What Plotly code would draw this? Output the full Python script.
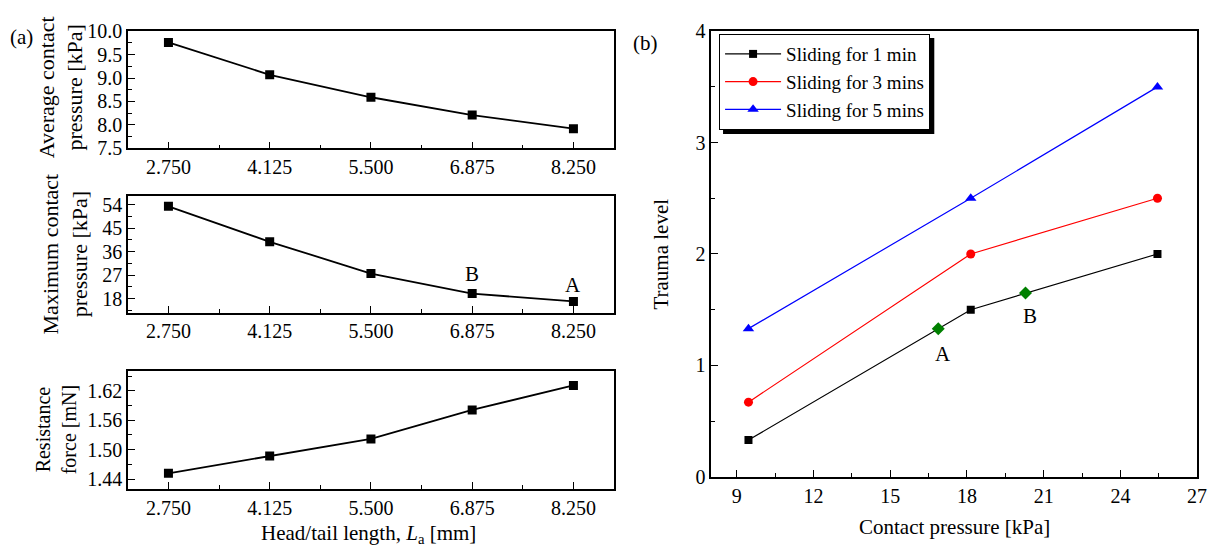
import plotly.graph_objects as go

W, H = 1222, 556
FONT = "Liberation Serif"

# ---- data: panel (a)
la = [2.75, 4.125, 5.5, 6.875, 8.25]
la_ticktext = ["2.750", "4.125", "5.500", "6.875", "8.250"]
avg_pressure = [9.76, 9.07, 8.59, 8.21, 7.92]
max_pressure = [53.4, 39.8, 27.6, 19.9, 16.9]
resistance = [1.452, 1.487, 1.522, 1.581, 1.631]

# ---- data: panel (b)
contact_pressure = [9.46, 18.15, 25.45]
trauma_1min = [0.33, 1.5, 2.0]
trauma_3min = [0.67, 2.0, 2.5]
trauma_5min = [1.33, 2.5, 3.5]
points_x = [16.88, 20.29]
points_y = [1.33, 1.65]
point_labels = ["A", "B"]


def px_x(p):
    return p / W


def px_y(p):
    return 1 - p / H


fig = go.Figure()

mk = dict(symbol="square", size=9, color="black")
ln = dict(color="black", width=1.8)
fig.add_trace(go.Scatter(x=la, y=avg_pressure, mode="lines+markers", line=ln, marker=mk,
                         xaxis="x", yaxis="y", showlegend=False))
fig.add_trace(go.Scatter(x=la, y=max_pressure, mode="lines+markers", line=ln, marker=mk,
                         xaxis="x2", yaxis="y2", showlegend=False))
fig.add_trace(go.Scatter(x=la, y=resistance, mode="lines+markers", line=ln, marker=mk,
                         xaxis="x3", yaxis="y3", showlegend=False))

fig.add_trace(go.Scatter(x=contact_pressure, y=trauma_1min, mode="lines+markers",
                         name="Sliding for 1 min",
                         line=dict(color="black", width=1.2),
                         marker=dict(symbol="square", size=8, color="black"),
                         xaxis="x4", yaxis="y4"))
fig.add_trace(go.Scatter(x=contact_pressure, y=trauma_3min, mode="lines+markers",
                         name="Sliding for 3 mins",
                         line=dict(color="red", width=1.2),
                         marker=dict(symbol="circle", size=9, color="red"),
                         xaxis="x4", yaxis="y4"))
fig.add_trace(go.Scatter(x=contact_pressure, y=trauma_5min, mode="lines+markers",
                         name="Sliding for 5 mins",
                         line=dict(color="blue", width=1.2),
                         marker=dict(symbol="triangle-up", size=10, color="blue"),
                         xaxis="x4", yaxis="y4"))
fig.add_trace(go.Scatter(x=points_x, y=points_y, mode="markers",
                         marker=dict(symbol="diamond", size=10, color="green"),
                         xaxis="x4", yaxis="y4", showlegend=False))

tickfont = dict(family=FONT, size=20, color="black")
common = dict(showline=True, linecolor="black", linewidth=1.5, mirror=True,
              ticks="inside", ticklen=7, tickwidth=1.2, tickcolor="black",
              showgrid=False, zeroline=False, tickfont=tickfont,
              minor=dict(ticks="inside", ticklen=4, tickwidth=1.2, tickcolor="black", showgrid=False))

xdom_a = [px_x(129), px_x(619)]
xa = dict(common, domain=xdom_a, range=[2.2, 8.8], tickvals=la, ticktext=la_ticktext,
          minor=dict(common["minor"], tickvals=[3.4375, 4.8125, 6.1875, 7.5625]))

LEG_TOP = 24
fig.update_layout(
    width=W, height=H,
    margin=dict(l=0, r=0, t=0, b=0),
    paper_bgcolor="white", plot_bgcolor="white",
    font=dict(family=FONT, color="black"),
    xaxis=dict(xa, anchor="y"),
    yaxis=dict(common, domain=[px_y(143), px_y(21)], range=[7.5, 10.0], dtick=0.5,
               tickformat=".1f", anchor="x", minor=dict(common["minor"], dtick=0.25)),
    xaxis2=dict(xa, anchor="y2"),
    yaxis2=dict(common, domain=[px_y(314), px_y(192.3)], range=[12.6, 57.5],
                tick0=0, dtick=9, anchor="x2", minor=dict(common["minor"], tick0=0, dtick=4.5)),
    xaxis3=dict(xa, anchor="y3"),
    yaxis3=dict(common, domain=[px_y(497.7), px_y(375)], range=[1.42, 1.66],
                tick0=1.44, dtick=0.06, tickformat=".2f", anchor="x3",
                minor=dict(common["minor"], tick0=1.44, dtick=0.03)),
    xaxis4=dict(common, domain=[px_x(717), px_x(1207)], range=[8, 27], tick0=0, dtick=3,
                anchor="y4",
                minor=dict(common["minor"], tick0=0, dtick=1.5)),
    yaxis4=dict(common, domain=[px_y(485), px_y(21)], range=[0, 4], dtick=1,
                anchor="x4",
                minor=dict(common["minor"], dtick=0.5)),
    legend=dict(x=px_x(725), y=px_y(LEG_TOP), xanchor="left", yanchor="top",
                bgcolor="white", bordercolor="black", borderwidth=1,
                font=dict(family=FONT, size=19, color="black"),
                itemwidth=56, tracegroupgap=0),
    showlegend=True,
)

annotations = [
    dict(text="Average contact<br>pressure [kPa]", x=px_x(61), y=px_y(80), size=22),
    dict(text="Maximum contact<br>pressure [kPa]", x=px_x(66), y=px_y(253), size=22),
    dict(text="Resistance<br>force [mN]", x=px_x(56), y=px_y(436), size=20),
    dict(text="Trauma level", x=px_x(666), y=px_y(253), size=21),
]
for a in annotations:
    size = a.pop("size")
    fig.add_annotation(xref="paper", yref="paper", textangle=-90, showarrow=False,
                       font=dict(family=FONT, size=size, color="black"),
                       xanchor="center", yanchor="middle", **a)

ann_font = dict(family=FONT, size=21, color="black")
fig.add_annotation(xref="paper", yref="paper", x=px_x(372), y=px_y(529),
                   text="Head/tail length, <i>L</i><sub>a</sub> [mm]", showarrow=False,
                   font=ann_font, xanchor="center", yanchor="top")
fig.add_annotation(xref="paper", yref="paper", x=px_x(962), y=px_y(537),
                   text="Contact pressure [kPa]", showarrow=False,
                   font=ann_font, xanchor="center", yanchor="middle")
fig.add_annotation(xref="paper", yref="paper", x=px_x(22), y=px_y(27), text="(a)",
                   showarrow=False, font=ann_font, xanchor="center", yanchor="middle")
fig.add_annotation(xref="paper", yref="paper", x=px_x(651), y=px_y(33), text="(b)",
                   showarrow=False, font=ann_font, xanchor="center", yanchor="middle")

# point labels
fig.add_annotation(xref="x2", yref="y2", x=6.875, y=27.6, text="B", showarrow=False,
                   font=ann_font)
fig.add_annotation(xref="x2", yref="y2", x=8.25, y=23.2, text="A", showarrow=False,
                   font=ann_font)
fig.add_annotation(xref="x4", yref="y4", x=17.05, y=1.1, text=point_labels[0],
                   showarrow=False, font=ann_font)
fig.add_annotation(xref="x4", yref="y4", x=20.47, y=1.44, text=point_labels[1],
                   showarrow=False, font=ann_font)

# legend shadow (offset box behind the legend)
fig.add_shape(type="rect", xref="paper", yref="paper",
              x0=px_x(729), x1=px_x(942), y0=px_y(LEG_TOP + 104), y1=px_y(LEG_TOP + 4),
              fillcolor="black", line=dict(width=0), layer="above")

fig.write_html("out.html")
